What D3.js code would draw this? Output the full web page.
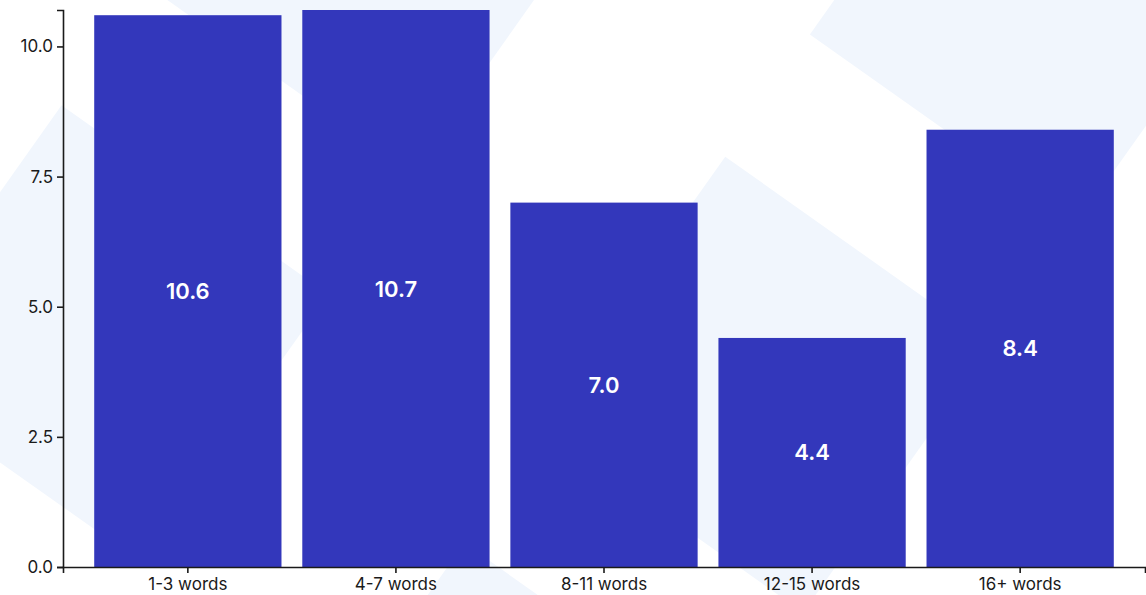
<!DOCTYPE html>
<html>
<head>
<meta charset="utf-8">
<script src="https://cdn.jsdelivr.net/npm/d3@7"></script>
<style>
  html, body { margin: 0; padding: 0; background: #ffffff; }
  svg { display: block; }
  .tick text { font-family: Inter, "Noto Sans", sans-serif; }
</style>
</head>
<body>
<svg id="chart" width="1146" height="595"></svg>
<script>
// Average values per title-length bucket
const categories = ["1-3 words", "4-7 words", "8-11 words", "12-15 words", "16+ words"];
const values = [10.6, 10.7, 7.0, 4.4, 8.4];
const yTickValues = [0, 2.5, 5, 7.5, 10];

const width = 1146, height = 595;
const margin = { top: 10, right: 1, bottom: 28, left: 63 };
const barColor = "#3337bb";
const tileColor = "#f1f6fd";

const svg = d3.select("#chart");

// Decorative rotated tiles in the background
const tiles = [
  { cx: 372.6, cy: -55 },
  { cx: 1037.8, cy: -4.5 },
  { cx: 100.5, cy: 333.2 },
  { cx: 764.2, cy: 384.6 },
  { cx: 503.4, cy: 771 }
];
const tileSize = 327, tileAngle = 35.3;
svg.append("g")
  .selectAll("rect")
  .data(tiles)
  .join("rect")
  .attr("x", -tileSize / 2)
  .attr("y", -tileSize / 2)
  .attr("width", tileSize)
  .attr("height", tileSize)
  .attr("transform", d => `translate(${d.cx},${d.cy}) rotate(${tileAngle})`)
  .attr("fill", tileColor);

const x = d3.scaleBand()
  .domain(categories)
  .range([margin.left, width - margin.right])
  .paddingInner(0.1)
  .paddingOuter(0.15);

const y = d3.scaleLinear()
  .domain([0, d3.max(values)])
  .range([height - margin.bottom, margin.top]);

const data = categories.map((c, i) => ({ category: c, value: values[i] }));

// Bars
svg.append("g")
  .selectAll("rect")
  .data(data)
  .join("rect")
  .attr("x", d => x(d.category))
  .attr("y", d => y(d.value))
  .attr("width", x.bandwidth())
  .attr("height", d => y(0) - y(d.value))
  .attr("fill", barColor);

// Value labels centred inside each bar
svg.append("g")
  .selectAll("text")
  .data(data)
  .join("text")
  .attr("x", d => x(d.category) + x.bandwidth() / 2)
  .attr("y", d => (y(d.value) + y(0)) / 2)
  .attr("text-anchor", "middle")
  .attr("dominant-baseline", "central")
  .attr("fill", "#ffffff")
  .attr("font-family", "Inter, 'Noto Sans', sans-serif")
  .attr("font-weight", 600)
  .attr("font-size", 22)
  .text(d => d3.format(".1f")(d.value));

// Axes
const yAxis = d3.axisLeft(y)
  .tickValues(yTickValues)
  .tickFormat(d3.format(".1f"))
  .tickSizeOuter(0)
  .tickSize(6)
  .tickPadding(4);

const xAxis = d3.axisBottom(x)
  .tickSizeOuter(0)
  .tickSize(6)
  .tickPadding(5);

const gy = svg.append("g")
  .attr("transform", `translate(${margin.left},0)`)
  .call(yAxis);

const gx = svg.append("g")
  .attr("transform", `translate(0,${height - margin.bottom})`)
  .call(xAxis);

[gx, gy].forEach(g => {
  g.select(".domain").attr("stroke", "#1a1a1a").attr("stroke-width", 1.6);
  g.selectAll(".tick line").attr("stroke", "#1a1a1a").attr("stroke-width", 1.6);
  g.selectAll(".tick text")
    .attr("fill", "#1a1a1a")
    .attr("font-size", 17);
});
</script>
</body>
</html>
